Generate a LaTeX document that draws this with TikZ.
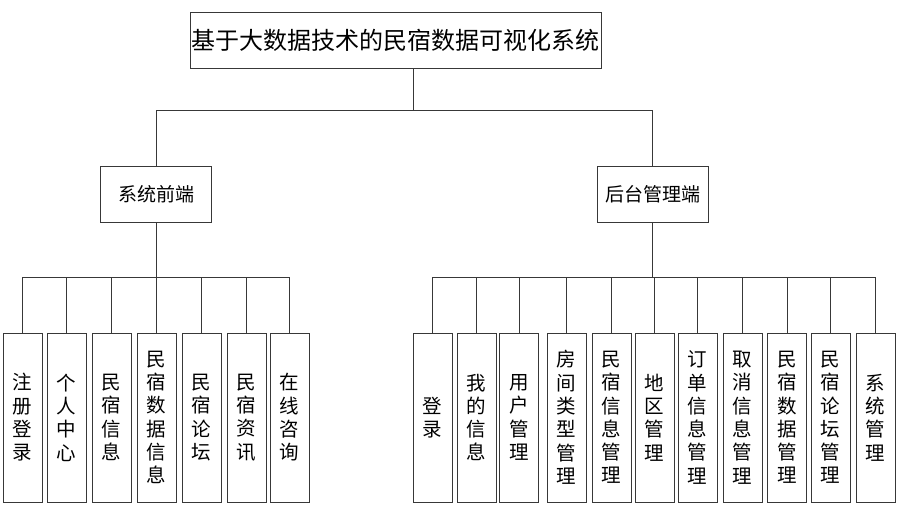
\documentclass[tikz,border=0pt]{standalone}
\usepackage{fontspec}
\setmainfont{Noto Sans CJK SC}
\tikzset{
  box/.style={draw=black!78, line width=0.9pt, inner sep=0pt, align=center},
  titlebox/.style={box, minimum width=411pt, minimum height=56pt, font=\fontsize{24}{27}\selectfont},
  midbox/.style={box, minimum width=111pt, minimum height=56pt, font=\fontsize{19}{22}\selectfont},
  leaf/.style={box, minimum width=39pt, minimum height=169pt, font=\fontsize{19.5}{23.3}\selectfont},
  conn/.style={draw=black!78, line width=0.9pt}
}
\begin{document}
\begin{tikzpicture}[x=1pt,y=-1pt]
\useasboundingbox (0,0) rectangle (905,517);
\node[titlebox] (t) at (395.5,40.5) {基于大数据技术的民宿数据可视化系统};
\node[midbox] (f) at (156,194) {系统前端};
\node[midbox] (b) at (652.5,194) {后台管理端};
\coordinate (tj) at (413,110);
\coordinate (lj) at (156,277);
\coordinate (rj) at (652.5,277);
% leaves front
\node[leaf] (f1) at (22.5,417.5) {注\\册\\登\\录};
\node[leaf] (f2) at (66.5,417.5) {个\\人\\中\\心};
\node[leaf] (f3) at (111.5,417.5) {民\\宿\\信\\息};
\node[leaf] (f4) at (156.5,417.5) {民\\宿\\数\\据\\信\\息};
\node[leaf] (f5) at (201.5,417.5) {民\\宿\\论\\坛};
\node[leaf] (f6) at (246.5,417.5) {民\\宿\\资\\讯};
\node[leaf] (f7) at (289.5,417.5) {在\\线\\咨\\询};
% leaves back
\node[leaf] (b1) at (432.5,417.5) {登\\录};
\node[leaf] (b2) at (476.5,417.5) {我\\的\\信\\息};
\node[leaf] (b3) at (519,417.5) {用\\户\\管\\理};
\node[leaf] (b4) at (566.5,417.5) {房\\间\\类\\型\\管\\理};
\node[leaf] (b5) at (611.5,417.5) {民\\宿\\信\\息\\管\\理};
\node[leaf] (b6) at (654.5,417.5) {地\\区\\管\\理};
\node[leaf] (b7) at (697.5,417.5) {订\\单\\信\\息\\管\\理};
\node[leaf] (b8) at (742.5,417.5) {取\\消\\信\\息\\管\\理};
\node[leaf] (b9) at (787,417.5) {民\\宿\\数\\据\\管\\理};
\node[leaf] (b10) at (830.5,417.5) {民\\宿\\论\\坛\\管\\理};
\node[leaf] (b11) at (875.5,417.5) {系\\统\\管\\理};
% connectors
\draw[conn] (t.south -| tj) -- (tj);
\draw[conn] (f.north) |- (tj);
\draw[conn] (b.north) |- (tj);
\draw[conn] (f.south) -- (lj);
\draw[conn] (b.south) -- (rj);
\foreach \i in {1,...,7} { \draw[conn] (f\i.north) |- (lj); }
\foreach \i in {1,...,11} { \draw[conn] (b\i.north) |- (rj); }
\end{tikzpicture}
\end{document}
